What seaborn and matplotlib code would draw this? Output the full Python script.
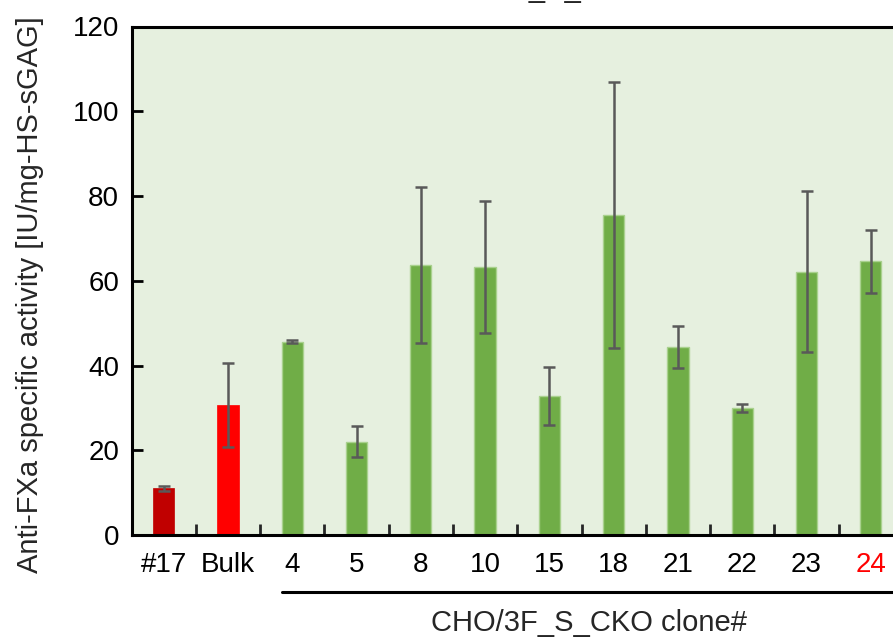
import matplotlib
matplotlib.use("Agg")
import matplotlib.pyplot as plt
import seaborn as sns
import pandas as pd

# Clone names, mean activity and error (SD)
clones = ["#17", "Bulk", "4", "5", "8", "10", "15", "18", "21", "22", "23", "24"]
activity = [11.0, 30.7, 45.6, 22.0, 63.8, 63.2, 32.8, 75.5, 44.3, 30.0, 62.1, 64.6]
errors = [0.5, 10.0, 0.3, 3.7, 18.4, 15.6, 6.8, 31.4, 4.95, 0.9, 19.0, 7.4]
bar_colors = ["#C00000", "#FF0000"] + ["#70AD47"] * 10
label_colors = ["black"] * 11 + ["#FF0000"]

df = pd.DataFrame({"clone": clones, "activity": activity})

sns.set_theme(style="white")
plt.rcParams["font.family"] = ["Liberation Sans", "DejaVu Sans"]

W, H = 893, 638
fig = plt.figure(figsize=(W / 100, H / 100), dpi=100)
fig.patch.set_facecolor("white")
left, right, top, bottom = 131.5, 903.0, 26.5, 535.0
ax = fig.add_axes([left / W, 1 - bottom / H, (right - left) / W, (bottom - top) / H])
ax.set_facecolor("#E6F0DF")

sns.barplot(data=df, x="clone", y="activity", hue="clone",
            palette=dict(zip(clones, bar_colors)), width=0.33,
            legend=False, ax=ax, saturation=1, errorbar=None)
for patch, c in zip(ax.patches, bar_colors):
    if c == "#70AD47":
        patch.set_edgecolor("#A9D18E")
        patch.set_linewidth(1.0)
    else:
        patch.set_edgecolor(c)
        patch.set_linewidth(0.5)

ax.errorbar(range(len(clones)), activity, yerr=errors, fmt="none",
            ecolor="#595959", elinewidth=1.8, capsize=4.5, capthick=1.8, zorder=5)

ax.set_xlim(-0.5, len(clones) - 0.5)
ax.set_ylim(0, 120)
ax.set_yticks(range(0, 121, 20))
ax.tick_params(axis="y", direction="in", length=8, width=2, labelsize=20,
               pad=9, left=True, colors="black")
# x ticks sit between the categories; labels sit on the categories
ax.set_xticks([i + 0.5 for i in range(len(clones) - 1)], minor=False)
ax.set_xticklabels([])
ax.set_xticks(range(len(clones)), minor=True)
ax.set_xticklabels(clones, minor=True)
ax.tick_params(axis="x", which="major", direction="in", length=8, width=2, bottom=True)
ax.tick_params(axis="x", which="minor", length=0, labelsize=20, pad=12)
for lbl, c in zip(ax.get_xticklabels(minor=True), label_colors):
    lbl.set_color(c)

for side in ["left", "bottom", "top", "right"]:
    ax.spines[side].set_visible(True)
    ax.spines[side].set_color("black")
    ax.spines[side].set_linewidth(2.2)

ax.set_xlabel("")
ax.set_ylabel("")

# y axis title
fig.text(30 / W, 1 - 295 / H, "Anti-FXa specific activity [IU/mg-HS-sGAG]",
         rotation=90, ha="center", va="center", fontsize=21)

# group bracket under the clone labels
trans = ax.get_xaxis_transform()
ax.plot([2 - 0.165, len(clones) + 1], [-(591.7 - bottom) / (bottom - top)] * 2,
        transform=trans, color="black", lw=2.2, clip_on=False)
fig.text(589 / W, 1 - 623 / H, "CHO/3F_S_CKO clone#", ha="center", va="center",
         fontsize=21)

# chart title, sitting mostly above the top edge
fig.text(423 / W, 1 + 3 / H, "CHO/3F_S_CKO", ha="left", va="baseline", fontsize=21)

fig.savefig("out.png", dpi=100)
